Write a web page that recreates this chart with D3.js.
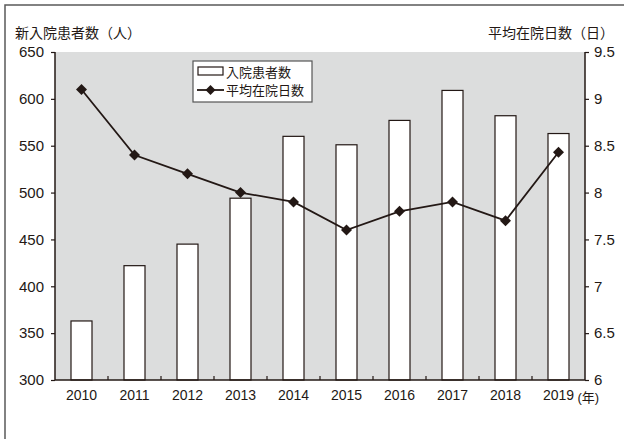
<!DOCTYPE html>
<html>
<head>
<meta charset="utf-8">
<script src="https://cdn.jsdelivr.net/npm/d3@7"></script>
<style>
  body { margin: 0; background: #fff; }
  text { font-family: "Liberation Sans", "Noto Sans CJK JP", sans-serif; fill: #231815; }
</style>
</head>
<body>
<div id="chart"></div>
<script>
// data
let years = ["2010", "2011", "2012", "2013", "2014", "2015", "2016", "2017", "2018", "2019"];
let patients = [363, 422, 445, 494, 560, 551, 577, 609, 582, 563];
let stayDays = [9.1, 8.4, 8.2, 8.0, 7.9, 7.6, 7.8, 7.9, 7.7, 8.43];
let leftTicks = [300, 350, 400, 450, 500, 550, 600, 650];
let rightTicks = [6, 6.5, 7, 7.5, 8, 8.5, 9, 9.5];

let width = 624, height = 439;
let margin = {left: 55, right: 39, top: 52, bottom: 59};
let ink = "#231815";

let svg = d3.select("#chart").append("svg")
  .attr("width", width)
  .attr("height", height);

// outer frame (only top and left edge visible)
svg.append("path")
  .attr("d", "M5,439L5,5L624,5")
  .attr("fill", "none")
  .attr("stroke", "#5a5a5a")
  .attr("stroke-width", 1.5);

let xScale = d3.scaleBand().domain(years)
  .range([margin.left, width - margin.right]);
let yLeft = d3.scaleLinear().domain([300, 650])
  .range([height - margin.bottom, margin.top]);
let yRight = d3.scaleLinear().domain([6, 9.5])
  .range([height - margin.bottom, margin.top]);

// plot background
svg.append("rect")
  .attr("x", margin.left)
  .attr("y", margin.top)
  .attr("width", width - margin.left - margin.right)
  .attr("height", height - margin.top - margin.bottom)
  .attr("fill", "#dcdddd");

// bars
let barW = 21;
svg.append("g")
  .selectAll("rect")
  .data(patients)
  .enter()
  .append("rect")
  .attr("x", function(d, i) { return xScale(years[i]) + xScale.bandwidth() / 2 - barW / 2; })
  .attr("y", function(d) { return yLeft(d); })
  .attr("width", barW)
  .attr("height", function(d) { return yLeft(300) - yLeft(d); })
  .attr("fill", "#fff")
  .attr("stroke", ink)
  .attr("stroke-width", 1.2);

// axes
let leftAxis = svg.append("g")
  .attr("transform", "translate(" + margin.left + ",0)")
  .call(d3.axisLeft(yLeft).tickValues(leftTicks).tickSize(4).tickPadding(7));
let rightAxis = svg.append("g")
  .attr("transform", "translate(" + (width - margin.right) + ",0)")
  .call(d3.axisRight(yRight).tickValues(rightTicks).tickSize(4).tickPadding(5)
    .tickFormat(d3.format("")));
let bottomAxis = svg.append("g")
  .attr("transform", "translate(0," + (height - margin.bottom) + ")")
  .call(d3.axisBottom(xScale).tickSize(0).tickPadding(10));

[leftAxis, rightAxis, bottomAxis].forEach(function(ax) {
  ax.select(".domain").attr("stroke", ink).attr("stroke-width", 1.5);
  ax.selectAll(".tick line").attr("stroke", ink).attr("stroke-width", 1.2);
  ax.selectAll("text").attr("font-size", 15).attr("fill", ink)
    .style("font-family", "'Liberation Sans', 'Noto Sans CJK JP', sans-serif");
});
leftAxis.select(".domain").attr("d", "M0," + yLeft(650) + "V" + yLeft(300));
rightAxis.select(".domain").attr("d", "M0," + yRight(9.5) + "V" + yRight(6));
bottomAxis.select(".domain").attr("d", "M" + margin.left + ",0H" + (width - margin.right));
bottomAxis.selectAll("text").attr("font-size", 14);

// inward ticks between categories
svg.append("g")
  .selectAll("line")
  .data(years.slice(1))
  .enter()
  .append("line")
  .attr("x1", function(d) { return xScale(d); })
  .attr("x2", function(d) { return xScale(d); })
  .attr("y1", height - margin.bottom)
  .attr("y2", height - margin.bottom - 4)
  .attr("stroke", ink)
  .attr("stroke-width", 1.2);

// (年) after last year label
svg.append("text")
  .attr("x", xScale("2019") + xScale.bandwidth() / 2 + 19)
  .attr("y", height - margin.bottom + 22)
  .attr("font-size", 13)
  .text("(年)");

// line series
let cx = function(d, i) { return xScale(years[i]) + xScale.bandwidth() / 2; };
let line = d3.line()
  .x(cx)
  .y(function(d) { return yRight(d); });
svg.append("path")
  .datum(stayDays)
  .attr("d", line)
  .attr("fill", "none")
  .attr("stroke", ink)
  .attr("stroke-width", 1.8);

function diamond(x, y, r) {
  return "M" + x + "," + (y - r) + "L" + (x + r) + "," + y + "L" + x + "," + (y + r) + "L" + (x - r) + "," + y + "Z";
}
svg.append("g")
  .selectAll("path")
  .data(stayDays)
  .enter()
  .append("path")
  .attr("d", function(d, i) { return diamond(cx(d, i), yRight(d), 5.5); })
  .attr("fill", ink);

// axis titles
svg.append("text")
  .attr("x", 15)
  .attr("y", 38)
  .attr("font-size", 14)
  .text("新入院患者数（人）");
svg.append("text")
  .attr("x", 614)
  .attr("y", 38)
  .attr("font-size", 14)
  .attr("text-anchor", "end")
  .text("平均在院日数（日）");

// legend
let lg = svg.append("g").attr("transform", "translate(193,61)");
lg.append("rect")
  .attr("width", 119).attr("height", 41)
  .attr("fill", "#fff")
  .attr("stroke", "#555")
  .attr("stroke-width", 1.2);
lg.append("rect")
  .attr("x", 5).attr("y", 6).attr("width", 25).attr("height", 8)
  .attr("fill", "#fff").attr("stroke", ink).attr("stroke-width", 1.2);
lg.append("text").attr("x", 33).attr("y", 16).attr("font-size", 13).text("入院患者数");
lg.append("line")
  .attr("x1", 4).attr("x2", 31).attr("y1", 29).attr("y2", 29)
  .attr("stroke", ink).attr("stroke-width", 1.8);
lg.append("path").attr("d", diamond(17.5, 29, 5)).attr("fill", ink);
lg.append("text").attr("x", 33).attr("y", 34).attr("font-size", 13).text("平均在院日数");
</script>
</body>
</html>
